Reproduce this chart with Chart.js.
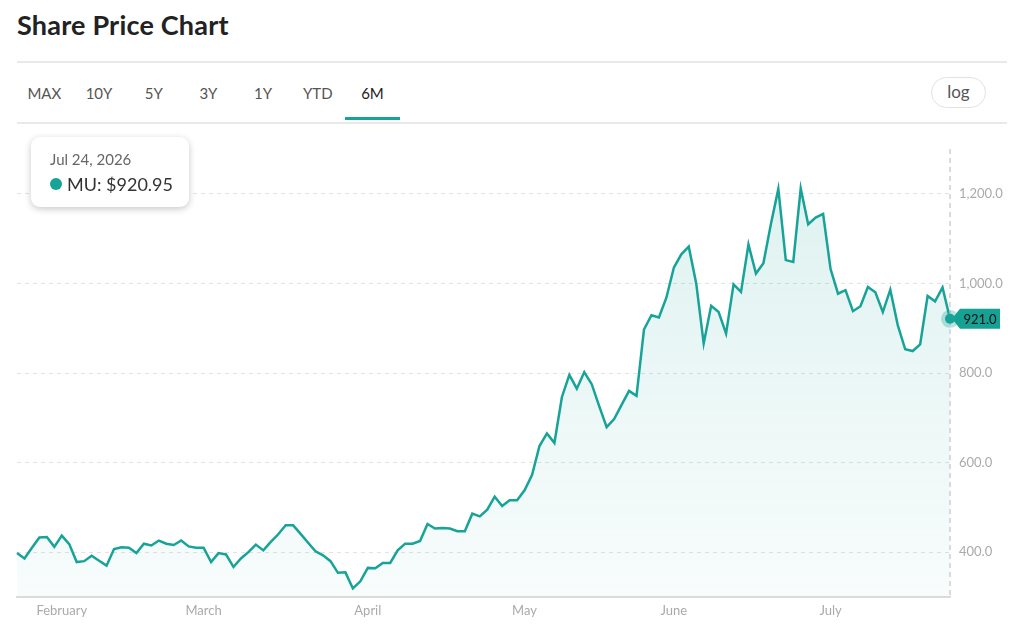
<!DOCTYPE html>
<html>
<head>
<meta charset="utf-8">
<script src="https://cdn.jsdelivr.net/npm/chart.js@4.4.1/dist/chart.umd.min.js"></script>
<style>
  html, body { margin:0; padding:0; background:#fff; width:1024px; height:640px; overflow:hidden; font-family: Lato, "Noto Sans", sans-serif; }
  #title { position:absolute; left:17px; top:8px; font-size:27px; font-weight:700; color:#222; letter-spacing:0.2px; }
  .hr { position:absolute; left:17px; width:990px; height:2px; background:#e9e9e9; }
  #tabs { position:absolute; left:17px; top:78px; display:flex; }
  .tab { width:54.7px; height:42px; box-sizing:border-box; text-align:center; font-size:15px; line-height:31px; color:#555; }
  .tab.active { color:#222; border-bottom:3px solid #17a398; }
  #log { position:absolute; left:931px; top:77px; width:55px; height:31px; box-sizing:border-box; border:1.5px solid #e2e2e2; border-radius:16px; text-align:center; font-size:17px; line-height:27px; color:#555; }
  #wrap { position:absolute; left:0; top:125px; width:1024px; height:515px; }
  #tip { position:absolute; left:31px; top:137px; width:158px; height:70px; box-sizing:border-box; background:#fff; border-radius:9px; box-shadow:0 2px 7px rgba(0,0,0,0.22); padding:12px 0 0 19px; z-index:5; }
  #tipDate { font-size:15px; color:#666; line-height:20px; }
  #tipVal { font-size:18px; color:#333; line-height:24px; margin-top:3px; display:flex; align-items:center; }
  #tipVal .dot { width:12px; height:12px; border-radius:50%; background:#17a398; margin-right:5px; }
</style>
</head>
<body>
<div id="title">Share Price Chart</div>
<div class="hr" style="top:61px"></div>
<div id="tabs"></div>
<div id="log">log</div>
<div class="hr" style="top:122px"></div>
<div id="wrap"><canvas id="c"></canvas></div>
<div id="tip"><div id="tipDate"></div><div id="tipVal"><span class="dot"></span><span id="tipText"></span></div></div>
<script>
// ---- data ----
const ticker = 'MU';
const year = 2026;
const rangeTabs = ['MAX', '10Y', '5Y', '3Y', '1Y', 'YTD', '6M'];
const activeTab = '6M';
const logLabel = 'log';
const monthNames = ['January', 'February', 'March', 'April', 'May', 'June', 'July'];
const monthShort = ['Jan', 'Feb', 'Mar', 'Apr', 'May', 'Jun', 'Jul'];
// trading days per month (Jan 23 .. Jul 24, 2026)
const tradingDays = [
  [23, 26, 27, 28, 29, 30],
  [2, 3, 4, 5, 6, 9, 10, 11, 12, 13, 17, 18, 19, 20, 23, 24, 25, 26, 27],
  [2, 3, 4, 5, 6, 9, 10, 11, 12, 13, 16, 17, 18, 19, 20, 23, 24, 25, 26, 27, 30, 31],
  [1, 2, 6, 7, 8, 9, 10, 13, 14, 15, 16, 17, 20, 21, 22, 23, 24, 27, 28, 29, 30],
  [1, 4, 5, 6, 7, 8, 11, 12, 13, 14, 15, 18, 19, 20, 21, 22, 26, 27, 28, 29],
  [1, 2, 3, 4, 5, 8, 9, 10, 11, 12, 15, 16, 17, 18, 22, 23, 24, 25, 26, 29, 30],
  [1, 2, 6, 7, 8, 9, 10, 13, 14, 15, 16, 17, 20, 21, 22, 23, 24]
];
const prices = [
  398, 386, 410, 433, 434, 412, 437, 418, 378, 380,
  392, 381, 370, 407, 411, 410, 398, 419, 415, 426,
  419, 416, 426, 413, 410, 410, 378, 398, 395, 367,
  386, 400, 417, 404, 423, 440, 460, 460, 441, 421,
  402, 393, 380, 354, 355, 319, 335, 365, 364, 376,
  376, 404, 419, 419, 425, 463, 453, 454, 453, 447,
  447, 486, 480, 495, 524, 503, 516, 516, 538, 572,
  637, 665, 644, 746, 796, 765, 802, 775, 726, 679,
  697, 729, 760, 749, 897, 929, 924, 968, 1035, 1065,
  1082, 1000, 866, 950, 936, 888, 998, 981, 1087, 1022,
  1045, 1132, 1211, 1052, 1048, 1212, 1132, 1147, 1155, 1032,
  977, 985, 938, 949, 992, 980, 936, 986, 907, 853,
  849, 864, 972, 960, 991, 920.95
];
const yTicks = [400, 600, 800, 1000, 1200];
const yMin = 300, yMax = 1300;

// ---- build categories ----
const labels = [], tickText = [];
tradingDays.forEach((days, m) => {
  days.forEach((d, k) => {
    labels.push(monthShort[m] + ' ' + d + ', ' + year);
    tickText.push(k === 0 && m > 0 ? monthNames[m] : '');
  });
});

// ---- header ----
const tabsEl = document.getElementById('tabs');
rangeTabs.forEach(t => {
  const d = document.createElement('div');
  d.className = 'tab' + (t === activeTab ? ' active' : '');
  d.textContent = t;
  tabsEl.appendChild(d);
});
document.getElementById('log').textContent = logLabel;
const last = prices.length - 1;
document.getElementById('tipDate').textContent = labels[last];
document.getElementById('tipText').textContent = ticker + ': $' + prices[last].toFixed(2);

const teal = '#17a398';

const lastMarker = {
  id: 'lastMarker',
  afterDatasetsDraw(chart) {
    const { ctx, chartArea, scales: { x, y } } = chart;
    const px = x.getPixelForValue(last), py = y.getPixelForValue(prices[last]);
    ctx.save();
    ctx.setLineDash([5, 4]);
    ctx.strokeStyle = '#cfcfcf';
    ctx.lineWidth = 1.5;
    ctx.beginPath();
    ctx.moveTo(px, chartArea.top);
    ctx.lineTo(px, chartArea.bottom);
    ctx.stroke();
    ctx.setLineDash([]);
    // price label box with left pointer
    const bx0 = px + 2, bx1 = px + 50, bh = 20;
    ctx.fillStyle = '#15a193';
    ctx.beginPath();
    ctx.moveTo(bx0, py);
    ctx.lineTo(bx0 + 8, py - bh / 2);
    ctx.lineTo(bx1, py - bh / 2);
    ctx.lineTo(bx1, py + bh / 2);
    ctx.lineTo(bx0 + 8, py + bh / 2);
    ctx.closePath();
    ctx.fill();
    ctx.fillStyle = '#111';
    ctx.font = '13px Lato, "Noto Sans", sans-serif';
    ctx.textAlign = 'center';
    ctx.textBaseline = 'middle';
    ctx.fillText(prices[last].toFixed(1), (bx0 + 8 + bx1) / 2, py + 0.5);
    // point + halo
    ctx.fillStyle = 'rgba(23,163,152,0.3)';
    ctx.beginPath(); ctx.arc(px, py, 9, 0, Math.PI * 2); ctx.fill();
    ctx.fillStyle = teal;
    ctx.beginPath(); ctx.arc(px, py, 5, 0, Math.PI * 2); ctx.fill();
    ctx.restore();
  }
};

new Chart(document.getElementById('c'), {
  type: 'line',
  data: {
    labels: labels,
    datasets: [{
      data: prices,
      borderColor: teal,
      borderWidth: 2.5,
      pointRadius: 0,
      tension: 0,
      fill: 'start',
      backgroundColor: (ctx) => {
        const ch = ctx.chart, a = ch.chartArea;
        if (!a) return 'rgba(23,163,152,0.08)';
        const g = ch.ctx.createLinearGradient(0, a.top, 0, a.bottom);
        g.addColorStop(0, 'rgba(23,163,152,0.15)');
        g.addColorStop(1, 'rgba(23,163,152,0.03)');
        return g;
      }
    }]
  },
  options: {
    responsive: true,
    maintainAspectRatio: false,
    animation: false,
    events: [],
    layout: { padding: { left: 17, right: 0, top: 24, bottom: 0 } },
    plugins: { legend: { display: false }, tooltip: { enabled: false } },
    scales: {
      x: {
        type: 'category',
        offset: false,
        grid: { display: false, drawTicks: false },
        border: { display: true, color: '#dcdcdc', width: 2 },
        ticks: {
          autoSkip: false, maxRotation: 0, minRotation: 0, padding: 6,
          color: '#aaa', font: { size: 13, family: 'Lato, "Noto Sans", sans-serif' },
          callback: (v, i) => tickText[i]
        },
        afterFit: (s) => { s.height = 43; }
      },
      y: {
        position: 'right',
        min: yMin, max: yMax,
        grid: { color: '#e2e2e2', lineWidth: 1, drawTicks: false },
        border: { display: false, dash: [4, 4] },
        ticks: {
          padding: 9, color: '#aaa', font: { size: 13, family: 'Lato, "Noto Sans", sans-serif' },
          callback: (v) => v.toLocaleString('en-US', { minimumFractionDigits: 1, maximumFractionDigits: 1 })
        },
        afterBuildTicks: (s) => { s.ticks = yTicks.map(v => ({ value: v })); },
        afterFit: (s) => { s.width = 74; }
      }
    }
  },
  plugins: [lastMarker]
});
</script>
</body>
</html>
